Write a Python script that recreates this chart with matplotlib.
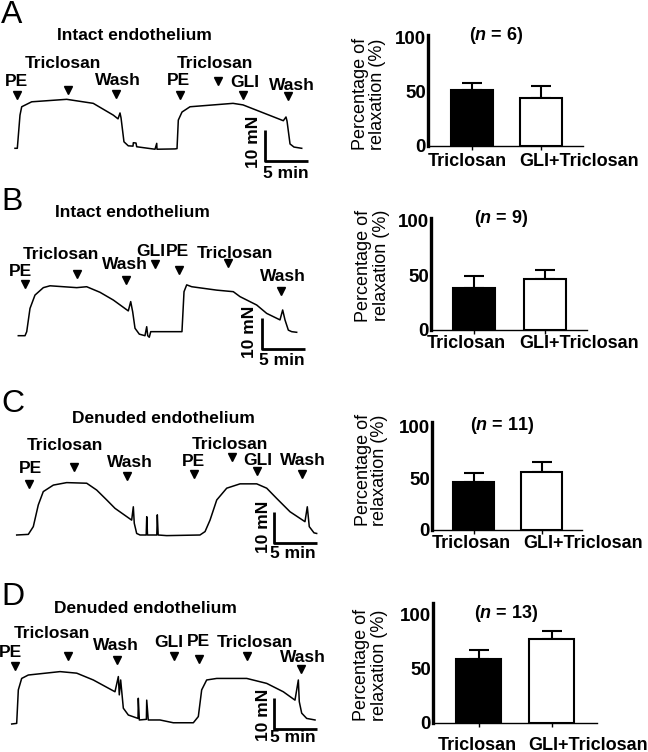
import matplotlib.pyplot as plt
import matplotlib.transforms as mtransforms

plt.rcParams['font.family'] = ['Liberation Sans', 'DejaVu Sans']
plt.rcParams['mathtext.fontset'] = 'custom'
plt.rcParams['mathtext.it'] = 'Liberation Sans:italic:bold'
plt.rcParams['mathtext.rm'] = 'Liberation Sans:bold'

# ---------------- data ----------------
groups = ['Triclosan', 'GLI+Triclosan']

relax_a = [51, 44]
sem_a = [7, 11]
relax_b = [38, 47]
sem_b = [11, 8]
relax_c = [46, 56]
sem_c = [9, 10]
relax_d = [59, 77]
sem_d = [8, 8]
n_obs = [6, 9, 11, 13]

# isometric tension traces: time (min), tension above rest (mN)
t_a = [0, 0.27, 0.58, 0.78, 1.94, 6.01, 9.10, 11.43, 11.98, 12.21, 12.33, 12.67,
       13.17, 13.72, 13.76, 14.07, 14.15, 16.28, 16.48, 16.51, 18.60, 18.84,
       18.99, 19.42, 20.35, 25.35, 26.51, 31.20, 31.51, 31.63, 31.98, 32.44, 33.34]
f_a = [0, 0, 10.7, 13.4, 15.0, 15.8, 14.5, 10.7, 9.5, 11.4, 9.8, 2.1,
       0.8, 0.7, 1.8, 1.7, 0.5, -0.3, 1.6, -0.3, -0.2, -0.1,
       9.1, 11.7, 13.4, 14.5, 14.0, 8.9, 10.1, 8.8, 1.4, 0.4, 0]

t_b = [0, 0.78, 0.98, 1.36, 1.94, 2.91, 3.69, 6.79, 7.95, 9.50, 11.05, 12.79,
       13.07, 13.30, 13.57, 14.07, 14.73, 14.93, 15.05, 15.23, 15.40, 19.03,
       19.27, 19.58, 20.16, 23.07, 25.0, 25.78, 27.72, 28.88, 30.43, 30.74,
       31.01, 31.40, 31.79, 32.37]
f_b = [0, 0, 1.3, 8.8, 13.1, 15.5, 16.1, 15.5, 15.8, 14.0, 11.5, 8.0,
       11.0, 7.7, 2.4, 0.5, 0, 2.9, 0, -0.5, 1.3, 1.3,
       14.2, 16.4, 15.8, 14.7, 14.2, 12.6, 9.9, 7.2, 5.1, 8.3,
       5.1, 1.8, 1.3, 1.1]

t_c = [0, 1.35, 1.93, 2.51, 3.09, 4.26, 5.81, 8.14, 9.30, 10.47, 11.43, 13.37,
       13.56, 13.67, 13.95, 14.34, 15.06, 15.12, 15.21, 16.29, 16.35, 16.45,
       17.44, 21.31, 21.90, 22.48, 23.26, 24.42, 25.97, 27.91, 29.07, 30.23,
       31.78, 33.52, 33.79, 34.02, 34.57, 34.88]
f_c = [0, 0.2, 2.7, 9.7, 14.0, 16.1, 16.9, 16.7, 14.5, 11.3, 8.6, 4.8,
       9.1, 3.8, 0.5, 0, 0, 5.9, 0, 0, 6.5, 0,
       -0.2, 0, 1.1, 4.8, 11.3, 15.1, 16.5, 16.5, 15.1, 11.8,
       7.5, 4.3, 9.1, 2.7, 0.7, 0.5]

t_d = [0, 0.58, 0.77, 1.16, 1.93, 5.62, 7.56, 9.49, 12.01, 12.40, 12.51, 12.67,
       12.98, 13.56, 14.69, 14.72, 14.84, 15.66, 15.70, 15.88, 17.24, 18.79,
       21.12, 21.70, 22.09, 22.67, 23.84, 27.33, 29.65, 31.58, 32.94, 33.33,
       33.44, 33.72, 34.30, 35.27]
f_d = [0, 0.2, 11.0, 14.7, 15.8, 16.9, 16.4, 14.2, 10.4, 15.3, 9.4, 14.2,
       5.1, 2.9, 1.8, 8.3, 1.3, 1.5, 7.7, 1.3, 1.3, 0.4,
       0.4, 2.4, 11.0, 14.2, 14.7, 14.7, 13.1, 10.4, 7.7, 14.2,
       7.2, 3.5, 1.8, 1.3]

# drug additions (min)
ev_a = ['PE', 'Triclosan', 'Wash', 'PE', 'Triclosan', 'GLI', 'Wash']
ev_t_a = [0.27, 6.13, 11.74, 19.19, 23.64, 26.48, 31.78]
ev_b = ['PE', 'Triclosan', 'Wash', 'GLI', 'PE', 'Triclosan', 'Wash']
ev_t_b = [0.78, 6.86, 12.52, 15.90, 18.69, 24.35, 30.55]
ev_c = ['PE', 'Triclosan', 'Wash', 'PE', 'Triclosan', 'GLI', 'Wash']
ev_t_c = [1.47, 6.66, 12.79, 20.62, 25.0, 27.91, 33.14]
ev_d = ['PE', 'Triclosan', 'Wash', 'GLI', 'PE', 'Triclosan', 'Wash']
ev_t_d = [0.38, 6.51, 12.21, 18.91, 21.78, 27.33, 33.6]

# ---------------- layout (pixels of the 648x752 figure) ----------------
W, H = 648, 752
SX, SY = 8.6, 3.1   # px per min, px per mN

panels = [
    dict(letter='A', title='Intact endothelium', letter_y=23.3, title_xy=(134, 40),
         band=(0, 185), origin=(15, 148.3), t=t_a, f=f_a, ev=ev_a, ev_t=ev_t_a,
         arrow_y=[95, 90, 94.3, 95, 80.7, 95, 95.7],
         lab_xy=[(16.7, 86), (63.3, 68.3), (118.3, 85), (178.3, 85), (215, 68.3), (245, 86.7), (291.7, 90)],
         bar_corner=(29.07, -4.0), mn_xy=(253, 141.7), min_xy=(286, 173.5),
         relax=relax_a, sem=sem_a, n=n_obs[0],
         bx=(428, 583), by0=146, bpx=1.09, btop=35, centers=(472, 541), bw=42,
         xlab=(467.3, 579.3), xlab_dy=15.7, n_xy=(496.7, 35), ylab_xy=(369, 94)),
    dict(letter='B', title='Intact endothelium', letter_y=210, title_xy=(132.5, 217),
         band=(185, 380), origin=(18.3, 335.7), t=t_b, f=f_b, ev=ev_b, ev_t=ev_t_b,
         arrow_y=[284.3, 274.3, 280, 264.3, 270, 263.3, 291],
         lab_xy=[(20, 275.7), (60.8, 259), (125, 269), (150.8, 255.7), (177.5, 255.7), (235, 257.7), (282.5, 281)],
         bar_corner=(28.30, -4.3), mn_xy=(250, 331.7), min_xy=(281.7, 360.5),
         relax=relax_b, sem=sem_b, n=n_obs[1],
         bx=(431, 587), by0=330, bpx=1.093, btop=218, centers=(474, 544.5), bw=42,
         xlab=(466.7, 578.7), xlab_dy=13.3, n_xy=(501.7, 218.3), ylab_xy=(372.5, 265.8)),
    dict(letter='C', title='Denuded endothelium', letter_y=411.7, title_xy=(163.3, 423.3),
         band=(380, 575), origin=(16.7, 535), t=t_c, f=f_c, ev=ev_c, ev_t=ev_t_c,
         arrow_y=[484, 467.3, 476, 474.3, 457.3, 471, 474.3],
         lab_xy=[(30, 473.3), (65, 450), (130, 467.3), (193.3, 466), (230, 449.3), (257.5, 465), (303.3, 465)],
         bar_corner=(29.92, -2.7), mn_xy=(263.3, 526.7), min_xy=(293.3, 554),
         relax=relax_c, sem=sem_c, n=n_obs[2],
         bx=(432, 582), by0=530, bpx=1.033, btop=422, centers=(473.5, 541.5), bw=41,
         xlab=(471.7, 583), xlab_dy=13.3, n_xy=(502.7, 425), ylab_xy=(371.5, 470)),
    dict(letter='D', title='Denuded endothelium', letter_y=605, title_xy=(145, 613.3),
         band=(575, 752), origin=(11.7, 724), t=t_d, f=f_d, ev=ev_d, ev_t=ev_t_d,
         arrow_y=[666, 656, 660, 656, 659.3, 656, 669.3],
         lab_xy=[(10.8, 656.7), (51.7, 638.3), (115.8, 650), (169.2, 646.7), (198.3, 646), (255, 646.7), (302.5, 661.7)],
         bar_corner=(30.5, -1.6), mn_xy=(263.3, 715), min_xy=(293.3, 738),
         relax=relax_d, sem=sem_d, n=n_obs[3],
         bx=(433, 597), by0=722.7, bpx=1.084, btop=603, centers=(478.5, 551.5), bw=45,
         xlab=(477.5, 588.3), xlab_dy=22.3, n_xy=(506.7, 613.3), ylab_xy=(370.5, 665)),
]

fig = plt.figure(figsize=(W / 100, H / 100), dpi=100)
pxT = mtransforms.Affine2D().scale(1 / W, -1 / H).translate(0, 1) + fig.transFigure

FS = 12.5   # trace annotations
BFS = 13    # bar chart text

for p in panels:
    # ---- trace ----
    top, bot = p['band']
    x0, y0 = p['origin']
    ax = fig.add_axes([0, 1 - bot / H, 330 / W, (bot - top) / H])
    ax.set_xlim(-x0 / SX, (330 - x0) / SX)
    ax.set_ylim((y0 - bot) / SY, (y0 - top) / SY)
    ax.axis('off')
    ax.plot(p['t'], p['f'], color='black', lw=1.1)

    trans = mtransforms.blended_transform_factory(ax.transData, pxT)
    ax.plot(p['ev_t'], p['arrow_y'], 'v', color='black', ms=6,
            transform=trans, clip_on=False)
    for lab, (lx, ly) in zip(p['ev'], p['lab_xy']):
        fig.text(lx, ly, lab, transform=pxT, ha='center', va='baseline',
                 fontsize=FS, fontweight='bold')

    ct, cf = p['bar_corner']
    ax.plot([ct, ct, ct + 5], [cf + 10, cf, cf], color='black', lw=2.0,
            clip_on=False, solid_capstyle='butt')
    fig.text(*p['mn_xy'], '10 mN', transform=pxT, rotation=90, ha='center',
             va='center', fontsize=FS, fontweight='bold')
    fig.text(*p['min_xy'], '5 min', transform=pxT, ha='center', va='center',
             fontsize=FS, fontweight='bold')

    fig.text(1, p['letter_y'], p['letter'], transform=pxT, ha='left',
             va='baseline', fontsize=23)
    fig.text(*p['title_xy'], p['title'], transform=pxT, ha='center',
             va='baseline', fontsize=FS, fontweight='bold')

    # ---- bar chart ----
    l, r = p['bx']
    c0, c1 = p['centers']
    u = c1 - c0
    ytop = (p['by0'] - p['btop']) / p['bpx']
    bax = fig.add_axes([l / W, 1 - p['by0'] / H, (r - l) / W,
                        (p['by0'] - p['btop']) / H])
    bax.set_xlim((l - c0) / u, (r - c0) / u)
    bax.set_ylim(0, ytop)
    xs = [0, 1]
    bax.bar(xs, p['relax'], width=p['bw'] / u, color=['black', 'white'],
            edgecolor='black', linewidth=1.5, zorder=2)
    bax.errorbar(xs, p['relax'], yerr=[[0, 0], p['sem']], fmt='none',
                 ecolor='black', elinewidth=1.5, capsize=7.5, capthick=1.5, zorder=1)
    for s in ['top', 'right']:
        bax.spines[s].set_visible(False)
    bax.spines['left'].set_linewidth(2.4)
    bax.spines['bottom'].set_linewidth(1.0)
    bax.set_yticks([0, 50, 100])
    bax.set_yticklabels(['0', '50', '100'], fontsize=BFS + 0.5, fontweight='bold')
    bax.tick_params(axis='y', length=0, pad=1.5)
    bax.set_xticks(xs)
    bax.set_xticklabels([])
    bax.tick_params(axis='x', length=3, width=1.0)
    for g, cx in zip(groups, p['xlab']):
        fig.text(cx, p['by0'] + p['xlab_dy'], g, transform=pxT, ha='center',
                 va='center', fontsize=BFS, fontweight='bold')
    fig.text(*p['n_xy'], '($n$ = %d)' % p['n'], transform=pxT, ha='center',
             va='center', fontsize=BFS, fontweight='bold')
    fig.text(*p['ylab_xy'], 'Percentage of\nrelaxation (%)', transform=pxT,
             rotation=90, ha='center', va='center', fontsize=BFS,
             linespacing=1.0)

fig.savefig('out.png', dpi=100)
